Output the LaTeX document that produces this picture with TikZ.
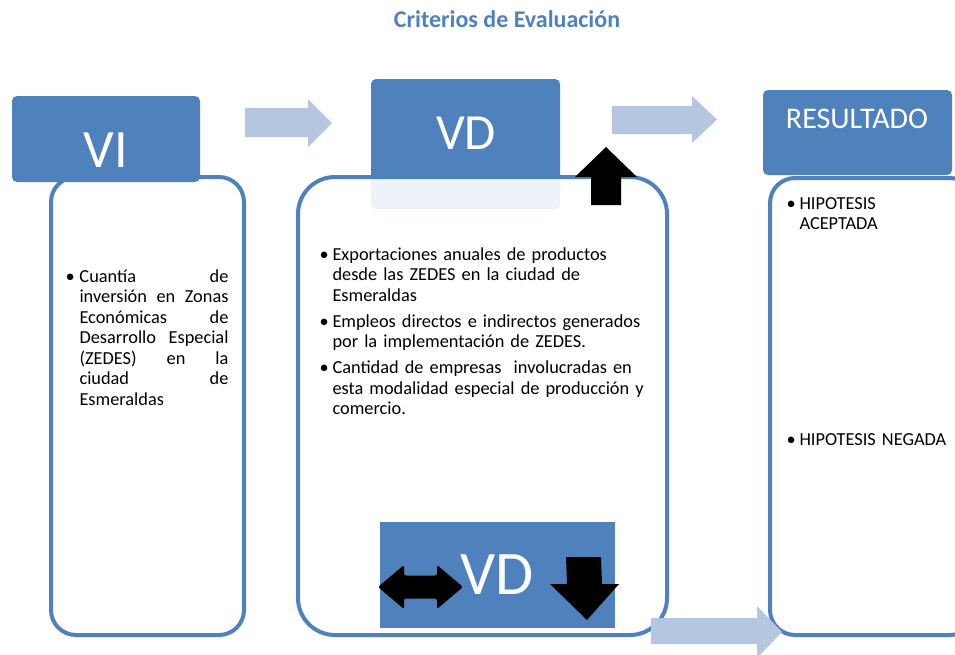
\documentclass[tikz,border=0pt]{standalone}
\usepackage{fontspec}
\setmainfont{Carlito}
\usetikzlibrary{positioning}
\definecolor{hdrblue}{RGB}{79,129,189}
\definecolor{arrblue}{RGB}{180,198,224}
\tikzset{every picture/.style={line width=0.75pt}}
\tikzset{
	header/.style={fill=hdrblue, draw=none, rounded corners=3.75pt, inner sep=0pt},
	bodybox/.style={draw=hdrblue, line width=3pt, fill=white, inner sep=0pt},
	flowarrow/.style={fill=arrblue, draw=none},
	blackarrow/.style={fill=black, draw=none},
	hdrtext/.style={text=white, inner sep=0pt},
	bodytext/.style={anchor=north west, inner sep=0pt, text=black, font=\fontsize{13.75}{15.4}\selectfont}
}
\newcommand\itm[2][9.75pt]{\par\hangindent=#1\hangafter=1\noindent\makebox[#1][l]{\textbullet}#2}

\begin{document}
\begin{tikzpicture}[x=0.75pt,y=0.75pt,yscale=-1]
	\clip (0,0) rectangle (955,654);
	
	%Shape: Right Arrow VI to VD
	\fill [flowarrow] (245,108) -- (308,108) -- (308,99) -- (332,123) -- (308,147) -- (308,137) -- (245,137) -- cycle ;
	%Shape: Right Arrow VD to RESULTADO
	\fill [flowarrow] (612,106) -- (692,106) -- (692,96) -- (717,119.5) -- (692,143) -- (692,134) -- (612,134) -- cycle ;
	
	%Rounded Rect: VI
	\node [bodybox, rounded corners=18.75pt, minimum width=144.75pt, minimum height=343.5pt] (vibody) at (147.5,406) {};
	\node [header, minimum width=141pt, minimum height=64.5pt] (vihead) at (106,139) {};
	
	%Rounded Rect: VD
	\node [header, minimum width=141.75pt, minimum height=97.5pt] (vdhead) at (465.5,144) {};
	\node [bodybox, fill opacity=0.9, rounded corners=27.75pt, minimum width=276.75pt, minimum height=343.5pt] (vdbody) at (482.5,406) {};
	\node [fill=hdrblue, inner sep=0pt, minimum width=176.25pt, minimum height=79.5pt] (vdlow) at (497.5,575) {};
	
	%Rounded Rect: RESULTADO
	\node [bodybox, rounded corners=18.75pt, minimum width=153.75pt, minimum height=342.75pt] (resbody) at (872.5,406.5) {};
	\node [header, minimum width=141.75pt, minimum height=63.75pt] (reshead) at (857.5,132.5) {};
	
	%Shape: Up Arrow
	\fill [blackarrow] (591,205) -- (591,177) -- (575,177) -- (606,147) -- (637,177) -- (621,177) -- (621,205) -- cycle ;
	%Shape: Left Right Arrow
	\fill [blackarrow, rounded corners=1.5pt] (378,587) -- (404,565) -- (404,575.5) -- (437,575.5) -- (437,565) -- (463,587) -- (437,609) -- (437,598.5) -- (404,598.5) -- (404,609) -- cycle ;
	%Shape: Down Arrow
	\fill [blackarrow] (566,557) -- (601,557) -- (602,584) -- (619,584) -- (587,620) -- (550,584) -- (567,584) -- cycle ;
	%Shape: Right Arrow to RESULTADO
	\fill [flowarrow] (651,618) -- (757,618) -- (757,606) -- (782,632) -- (757,658) -- (757,644) -- (651,644) -- cycle ;
	
	% Text Node
	\node [text=hdrblue, inner sep=0pt, font=\fontsize{18}{21}\selectfont\bfseries] (title) at (507,19) {Criterios de Evaluación};
	% Text Node
	\node [hdrtext, font=\fontsize{40.5}{48}\selectfont] (vilabel) at (106,150) {VI};
	% Text Node
	\node [hdrtext, font=\fontsize{38}{46}\selectfont] (vdlabel) at (466,133) {VD};
	% Text Node
	\node [hdrtext, font=\fontsize{22.5}{27}\selectfont] (reslabel) at (857,119) {RESULTADO};
	% Text Node
	\node [hdrtext, font=\fontsize{46.5}{56}\selectfont] (vdlowlabel) at (497,575) {VD};
	
	% Text Node
	\node [bodytext, text width=122.25pt, align=justify] (vilist) at (65,261) {\hyphenpenalty=10000\itm[10.5pt]{Cuantía de\linebreak inversión en Zonas\linebreak Económicas de\linebreak Desarrollo Especial\linebreak (ZEDES) en la\linebreak ciudad de\linebreak Esmeraldas}\par};
	% Text Node
	\node [bodytext, text width=252pt, align=left] (vdlist) at (319,234) {\setlength\parskip{4pt}\itm{Exportaciones anuales de productos\newline desde las ZEDES en la ciudad de\newline Esmeraldas}\itm{Empleos directos e indirectos generados\newline por la implementación de ZEDES.}\itm{Cantidad de empresas\ \ involucradas en\newline esta modalidad especial de producción y\newline comercio.}\par};
	% Text Node
	\node [bodytext, text width=130pt, align=left] (reslist) at (786,188) {\itm{HIPOTESIS\newline ACEPTADA}\par};
	% Text Node
	\node [bodytext, text width=130pt, align=left] (resneg) at (786,424) {\itm{HIPOTESIS NEGADA}\par};
	
\end{tikzpicture}
\end{document}
